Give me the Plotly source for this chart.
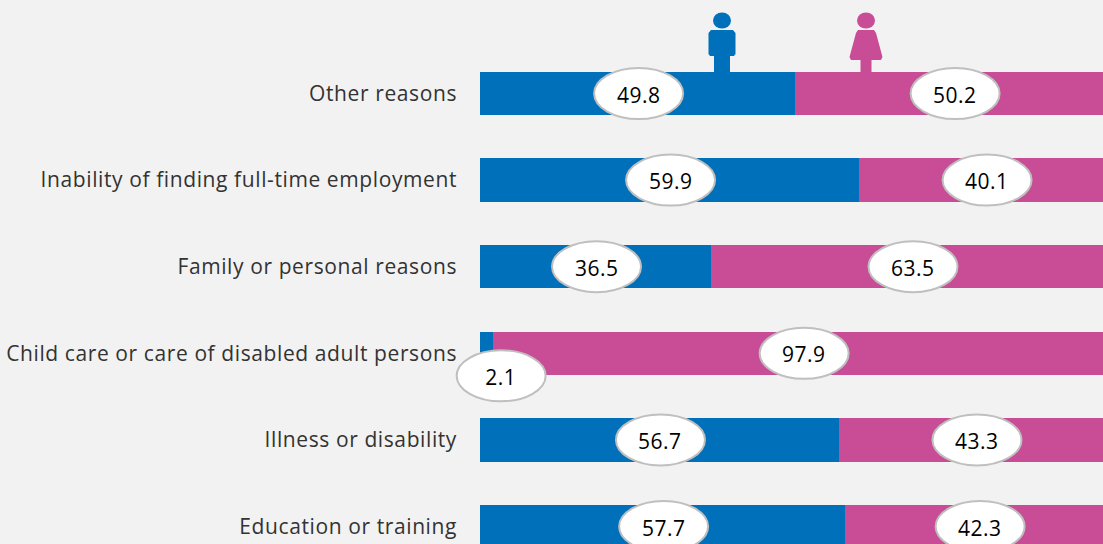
import plotly.graph_objects as go

categories = ["Education or training", "Illness or disability",
              "Child care or care of disabled adult persons",
              "Family or personal reasons",
              "Inability of finding full-time employment", "Other reasons"]
men = [57.7, 56.7, 2.1, 36.5, 59.9, 49.8]
women = [42.3, 43.3, 97.9, 63.5, 40.1, 50.2]

BLUE, PINK = "#0070BA", "#C84D96"
W, H = 1103, 544
L = 440          # left edge of the plotting frame
X0 = 480         # pixel position of the 0 value
SCALE = 6.33     # pixels per percentage point
STEP = 86.6
YBOTTOM, YTOP = -17.5 / STEP, 5 + 93.5 / STEP
pos = list(range(len(categories)))

fig = go.Figure()
fig.add_bar(y=pos, x=men, orientation="h", marker=dict(color=BLUE, line=dict(width=0)), width=0.5, hoverinfo="skip")
fig.add_bar(y=pos, x=women, orientation="h", marker=dict(color=PINK, line=dict(width=0)), width=0.5, hoverinfo="skip")

shapes, annotations = [], []
def bubble(xval, yval, label, dx=0, dy=0):
    shapes.append(dict(type="circle", xref="x", yref="y", xsizemode="pixel", ysizemode="pixel",
                       xanchor=xval, yanchor=yval, x0=dx - 44.5, x1=dx + 44.5, y0=-dy - 25.5, y1=-dy + 25.5,
                       fillcolor="white", line=dict(color="#BFBFBF", width=2)))
    annotations.append(dict(x=xval, y=yval, xref="x", yref="y", text=label, showarrow=False,
                            xshift=dx, yshift=-dy - 1, font=dict(family="Open Sans", size=21, color="black")))

for i, (m, f) in enumerate(zip(men, women)):
    if m < 5:
        bubble(m / 2, i, f"{m}", dx=14.5, dy=22.5)
    else:
        bubble(m / 2, i, f"{m}", dx=1)
    bubble(m + f / 2, i, f"{f}", dx=1)

def fx(x):
    return (x - L) / (W - L)
def fy(y):
    return 1 - y / H

def head(cx, cy, rx, ry, color):
    shapes.append(dict(type="circle", xref="paper", yref="paper",
                       x0=fx(cx - rx), x1=fx(cx + rx), y0=fy(cy + ry), y1=fy(cy - ry),
                       fillcolor=color, line=dict(width=0)))

def polygon(pts, color):
    path = "M " + " L ".join(f"{fx(x):.5f},{fy(y):.5f}" for x, y in pts) + " Z"
    shapes.append(dict(type="path", xref="paper", yref="paper", path=path, fillcolor=color, line=dict(width=0)))

# man icon
head(722, 20.5, 9, 8, BLUE)
polygon([(711, 30), (733, 30), (735.5, 33), (735.5, 54), (734, 56), (730, 56), (730, 73),
         (714, 73), (714, 56), (710, 56), (708.5, 54), (708.5, 33)], BLUE)
# woman icon
head(866, 20.5, 9, 8, PINK)
polygon([(858, 30), (874, 30), (876, 33), (882.5, 57), (881, 60), (871.5, 60), (871.5, 73),
         (860.5, 73), (860.5, 60), (851, 60), (849.5, 57), (856, 33)], PINK)

fig.update_layout(
    width=W, height=H, autosize=False, barmode="stack", showlegend=False,
    margin=dict(l=L, r=0, t=0, b=0),
    paper_bgcolor="#F2F2F2", plot_bgcolor="#F2F2F2",
    shapes=shapes, annotations=annotations,
    font=dict(family="Open Sans", size=21, color="#333333"),
    xaxis=dict(range=[(L - X0) / SCALE, (W - X0) / SCALE], visible=False, fixedrange=True),
    yaxis=dict(range=[YBOTTOM, YTOP], tickmode="array", tickvals=pos, ticktext=categories,
               anchor="free", position=(X0 - L) / (W - L),
               showgrid=False, zeroline=False, showline=False, ticks="", ticklabelstandoff=23,
               fixedrange=True),
)
post = """
document.body.style.margin = '0';
document.body.style.background = '#F2F2F2';
document.documentElement.style.overflow = 'hidden';
document.querySelectorAll('.ytick text').forEach(function (t) { t.style.letterSpacing = '0.6px'; });
document.querySelectorAll('.annotation-text').forEach(function (t) { t.style.letterSpacing = '0.5px'; });
"""
fig.write_html("out.html", config=dict(displayModeBar=False), post_script=post)
